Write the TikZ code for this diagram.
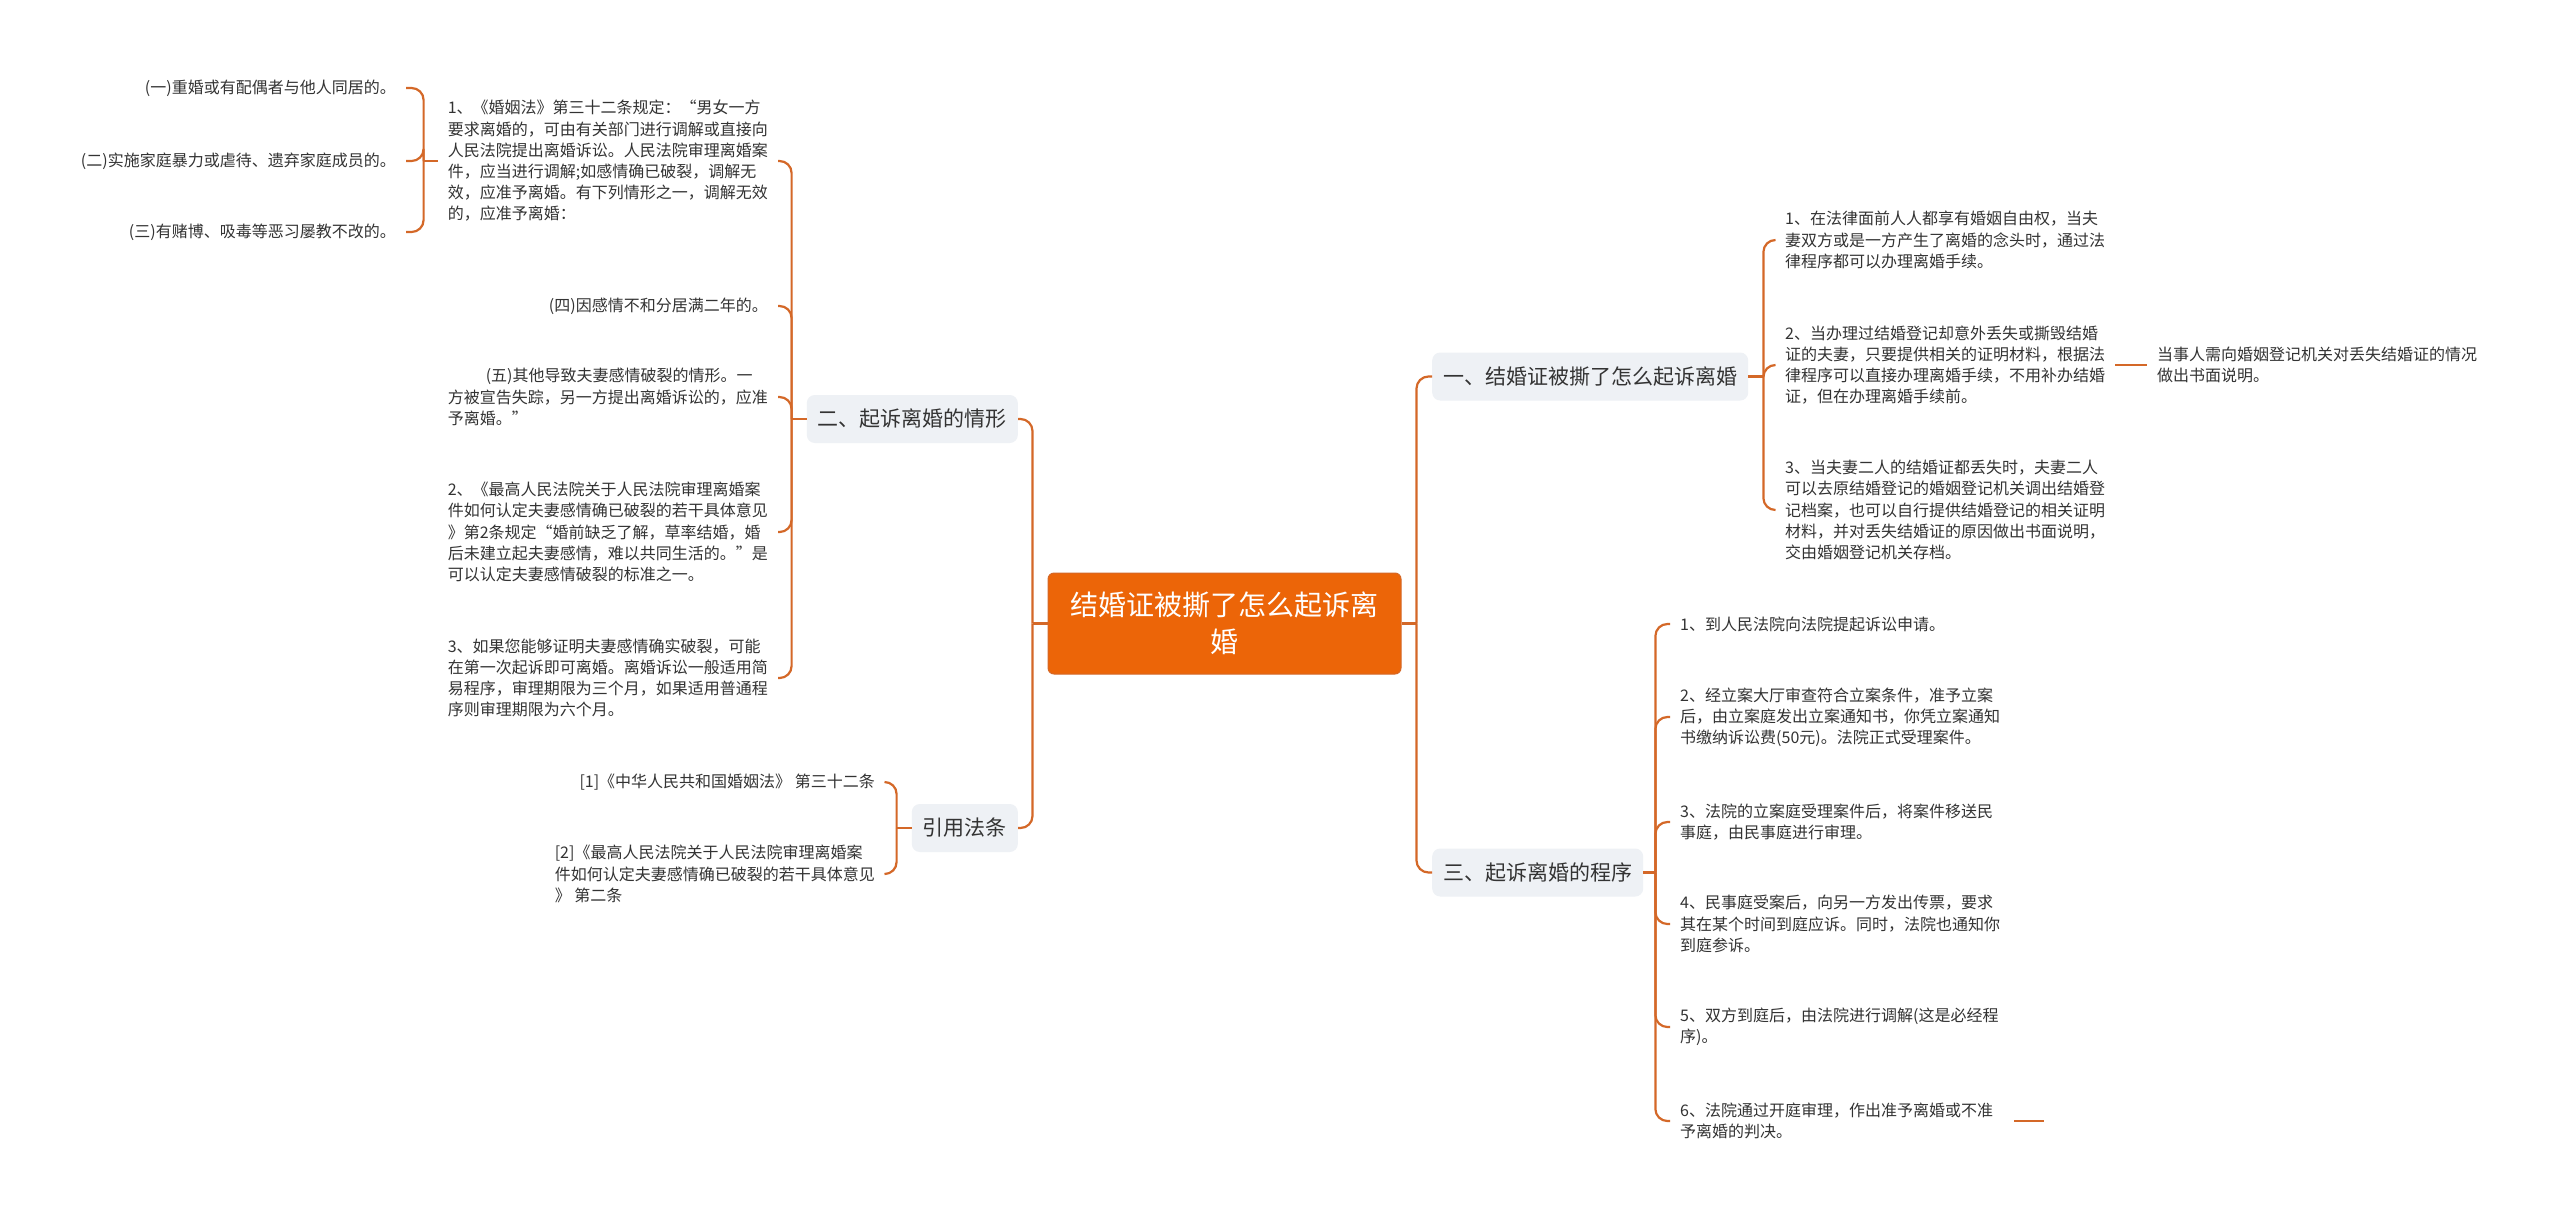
\documentclass[tikz,border=0pt]{standalone}
\usepackage{fontspec}
\setmainfont{Noto Sans CJK SC}
\definecolor{lineC}{RGB}{212,104,40}
\definecolor{rootC}{RGB}{236,101,8}
\definecolor{boxC}{RGB}{238,241,245}
\definecolor{txtC}{RGB}{51,51,51}
\tikzset{
  conn/.style={draw=lineC, line width=2.2pt, rounded corners=12pt},
  leaf/.style={inner xsep=10pt, inner ysep=0pt, align=left, text=txtC, font=\fontsize{16}{21.2}\selectfont},
  lvl/.style={fill=boxC, rounded corners=8pt, inner xsep=11pt, minimum height=48pt, text=txtC, font=\fontsize{21}{25}\selectfont},
  rootbox/.style={fill=rootC, draw=lineC, line width=1pt, rounded corners=6pt, minimum width=353pt, minimum height=101pt, align=center, text=white, font=\fontsize{28}{37}\selectfont}
}
\begin{document}
\begin{tikzpicture}[x=1pt,y=-1pt]
\useasboundingbox (0,0) rectangle (2560,1219);
\fill[white] (0,0) rectangle (2560,1219);

% root
\node[rootbox] (root) at (1224.5,623.5) {结婚证被撕了怎么起诉离\\婚};

% level 1
\node[lvl, anchor=east] (L2) at (1018,419) {二、起诉离婚的情形};
\node[lvl, anchor=east] (Lref) at (1018,828) {引用法条};
\node[lvl, anchor=west] (R1) at (1432,376.5) {一、结婚证被撕了怎么起诉离婚};
\node[lvl, anchor=west] (R3) at (1432,872.5) {三、起诉离婚的程序};

\coordinate (jL) at ([xshift=-15pt]root.west);
\coordinate (jR) at ([xshift=15pt]root.east);
\draw[conn] (root.west) -- (jL);
\draw[conn] (jL) |- (L2.east);
\draw[conn] (jL) |- (Lref.east);
\draw[conn] (root.east) -- (jR);
\draw[conn] (jR) |- (R1.west);
\draw[conn] (jR) |- (R3.west);

% ---- 二、起诉离婚的情形 children
\node[leaf, anchor=east] (e1) at (778,161) {1、《婚姻法》第三十二条规定：“男女一方\\要求离婚的，可由有关部门进行调解或直接向\\人民法院提出离婚诉讼。人民法院审理离婚案\\件，应当进行调解;如感情确已破裂，调解无\\效，应准予离婚。有下列情形之一，调解无效\\的，应准予离婚：};
\node[leaf, anchor=east] (e2) at (778,306) {(四)因感情不和分居满二年的。};
\node[leaf, anchor=east] (e3) at (778,397) {\hspace*{38pt}(五)其他导致夫妻感情破裂的情形。一\\方被宣告失踪，另一方提出离婚诉讼的，应准\\予离婚。”};
\node[leaf, anchor=east] (e4) at (778,532) {2、《最高人民法院关于人民法院审理离婚案\\件如何认定夫妻感情确已破裂的若干具体意见\\》第2条规定“婚前缺乏了解，草率结婚，婚\\后未建立起夫妻感情，难以共同生活的。”是\\可以认定夫妻感情破裂的标准之一。};
\node[leaf, anchor=east] (e5) at (778,678) {3、如果您能够证明夫妻感情确实破裂，可能\\在第一次起诉即可离婚。离婚诉讼一般适用简\\易程序，审理期限为三个月，如果适用普通程\\序则审理期限为六个月。};

\coordinate (j2) at ([xshift=-15pt]L2.west);
\draw[conn] (L2.west) -- (j2);
\foreach \c in {e1,e2,e3,e4,e5} { \draw[conn] (j2) |- (\c.east); }

% ---- children of e1
\node[leaf, anchor=east] (f1) at (406,88) {(一)重婚或有配偶者与他人同居的。};
\node[leaf, anchor=east] (f2) at (406,161) {(二)实施家庭暴力或虐待、遗弃家庭成员的。};
\node[leaf, anchor=east] (f3) at (406,232) {(三)有赌博、吸毒等恶习屡教不改的。};
\coordinate (je1) at ([xshift=-14pt]e1.west);
\draw[conn] (e1.west) -- (je1);
\foreach \c in {f1,f2,f3} { \draw[conn] (je1) |- (\c.east); }

% ---- 引用法条 children
\node[leaf, anchor=east] (g1) at (885,782) {[1]《中华人民共和国婚姻法》 第三十二条};
\node[leaf, anchor=east] (g2) at (885,874) {[2]《最高人民法院关于人民法院审理离婚案\\件如何认定夫妻感情确已破裂的若干具体意见\\》 第二条};
\coordinate (jref) at ([xshift=-15pt]Lref.west);
\draw[conn] (Lref.west) -- (jref);
\foreach \c in {g1,g2} { \draw[conn] (jref) |- (\c.east); }

% ---- 一、 children
\node[leaf, anchor=west] (c1) at (1775,240) {1、在法律面前人人都享有婚姻自由权，当夫\\妻双方或是一方产生了离婚的念头时，通过法\\律程序都可以办理离婚手续。};
\node[leaf, anchor=west] (c2) at (1775,365) {2、当办理过结婚登记却意外丢失或撕毁结婚\\证的夫妻，只要提供相关的证明材料，根据法\\律程序可以直接办理离婚手续，不用补办结婚\\证，但在办理离婚手续前。};
\node[leaf, anchor=west] (c3) at (1775,510) {3、当夫妻二人的结婚证都丢失时，夫妻二人\\可以去原结婚登记的婚姻登记机关调出结婚登\\记档案，也可以自行提供结婚登记的相关证明\\材料，并对丢失结婚证的原因做出书面说明，\\交由婚姻登记机关存档。};
\coordinate (j1) at ([xshift=15pt]R1.east);
\draw[conn] (R1.east) -- (j1);
\foreach \c in {c1,c2,c3} { \draw[conn] (j1) |- (\c.west); }

\node[leaf, anchor=west] (c21) at (2147,365) {当事人需向婚姻登记机关对丢失结婚证的情况\\做出书面说明。};
\draw[conn] (c2.east) -- (c21.west);

% ---- 三、 children
\node[leaf, anchor=west] (d1) at (1670,624) {1、到人民法院向法院提起诉讼申请。};
\node[leaf, anchor=west] (d2) at (1670,717) {2、经立案大厅审查符合立案条件，准予立案\\后，由立案庭发出立案通知书，你凭立案通知\\书缴纳诉讼费(50元)。法院正式受理案件。};
\node[leaf, anchor=west] (d3) at (1670,822) {3、法院的立案庭受理案件后，将案件移送民\\事庭，由民事庭进行审理。};
\node[leaf, anchor=west] (d4) at (1670,924) {4、民事庭受案后，向另一方发出传票，要求\\其在某个时间到庭应诉。同时，法院也通知你\\到庭参诉。};
\node[leaf, anchor=west] (d5) at (1670,1027) {5、双方到庭后，由法院进行调解(这是必经程\\序)。};
\node[leaf, anchor=west] (d6) at (1670,1121) {6、法院通过开庭审理，作出准予离婚或不准\\予离婚的判决。};
\coordinate (j3) at ([xshift=12pt]R3.east);
\draw[conn] (R3.east) -- (j3);
\foreach \c in {d1,d2,d3,d4,d5,d6} { \draw[conn] (j3) |- (\c.west); }

\coordinate (s6a) at ([xshift=11pt]d6.east);
\coordinate (s6b) at ([xshift=41pt]d6.east);
\draw[conn] (s6a) -- (s6b);
\end{tikzpicture}
\end{document}
